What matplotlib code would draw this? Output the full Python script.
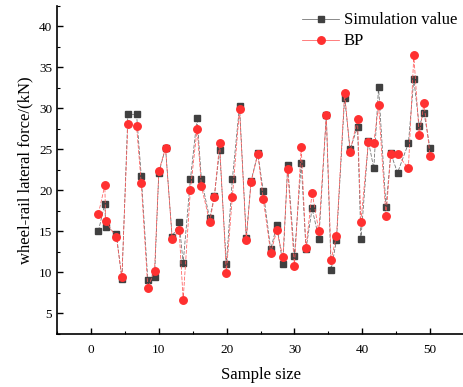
import matplotlib
matplotlib.use('Agg')
import matplotlib.pyplot as plt
from matplotlib.ticker import MultipleLocator

plt.rcParams['font.family'] = ['Liberation Serif', 'DejaVu Serif']

# sample positions
sample_x = [1.09, 2.04, 2.16, 3.74, 4.56, 5.44, 6.72, 7.41, 8.38, 9.37,
            10.0, 10.99, 11.97, 13.0, 13.59, 14.66, 15.65, 16.28, 17.5, 18.19,
            18.97, 19.96, 20.84, 21.9, 22.9, 23.6, 24.6, 25.4, 26.5, 27.4,
            28.3, 29.0, 30.0, 31.0, 31.7, 32.6, 33.6, 34.7, 35.4, 36.2,
            37.4, 38.2, 39.3, 39.8, 40.9, 41.7, 42.4, 43.5, 44.2, 45.2,
            46.8, 47.6, 48.4, 49.1, 50.0]

simulation = [15.04, 18.38, 15.57, 14.72, 9.15, 29.27, 29.27, 21.79, 9.06, 9.43,
              22.11, 25.2, 14.31, 16.14, 11.14, 21.34, 28.86, 21.34, 16.59, 19.31,
              24.92, 10.98, 21.34, 30.28, 14.23, 21.14, 24.5, 19.92, 12.80, 15.77,
              10.98, 23.09, 11.99, 23.29, 12.80, 17.80, 14.11, 29.2, 10.28, 13.94,
              31.3, 25.0, 27.72, 14.02, 26.02, 22.68, 32.6, 17.96, 24.51, 22.15,
              25.73, 33.54, 27.85, 29.47, 25.12]

bp = [17.16, 20.61, 16.26, 14.27, 9.47, 28.13, 27.80, 20.89, 8.13, 10.2,
      22.35, 25.16, 14.11, 15.12, 6.67, 20.08, 27.52, 20.52, 16.14, 19.19,
      25.73, 9.96, 19.19, 29.88, 13.94, 21.0, 24.47, 18.94, 12.40, 15.12,
      11.87, 22.56, 10.77, 25.28, 13.01, 19.72, 15.04, 29.19, 11.5, 14.43,
      31.91, 24.72, 28.66, 16.18, 25.9, 25.81, 30.37, 16.83, 24.39, 24.39,
      22.68, 36.46, 26.75, 30.61, 24.18]

fig = plt.figure(figsize=(4.64, 3.87), dpi=100)
ax = fig.add_axes([0.123, 0.137, 0.877, 0.848])

ax.plot(sample_x, simulation, color='#6a6a6a', linestyle=(0, (5, 2)), linewidth=0.55,
        marker='s', markersize=4.6, markerfacecolor='#404040', markeredgecolor='#404040',
        label='Simulation value', zorder=2)
ax.plot(sample_x, bp, color='#ff5a5a', linestyle=(0, (5, 2)), linewidth=0.55,
        marker='o', markersize=5.4, markerfacecolor='#ff3030', markeredgecolor='#ff3030',
        label='BP', zorder=3)

ax.set_xlim(-5, 55)
ax.set_ylim(2.5, 42.5)
ax.xaxis.set_major_locator(MultipleLocator(10))
ax.xaxis.set_minor_locator(MultipleLocator(5))
ax.yaxis.set_major_locator(MultipleLocator(5))
ax.yaxis.set_minor_locator(MultipleLocator(2.5))
ax.tick_params(which='major', direction='in', length=4, width=1, labelsize=9.5)
ax.tick_params(axis='x', which='major', pad=7)
ax.tick_params(which='minor', direction='in', length=2, width=0.8)
for side in ['top', 'right']:
    ax.spines[side].set_visible(False)
for side in ['left', 'bottom']:
    ax.spines[side].set_linewidth(1.2)

ax.set_xlabel('Sample size', fontsize=12, labelpad=8)
ax.set_ylabel('wheel-rail lateral force/(kN)', fontsize=12)

leg = ax.legend(loc='upper right', frameon=False, fontsize=12, handlelength=2.2,
                handletextpad=0.3, borderaxespad=0.0, labelspacing=0.3,
                bbox_to_anchor=(1.0, 1.0))
for line in leg.get_lines():
    line.set_linestyle('-')

fig.savefig('out.png', dpi=100)
